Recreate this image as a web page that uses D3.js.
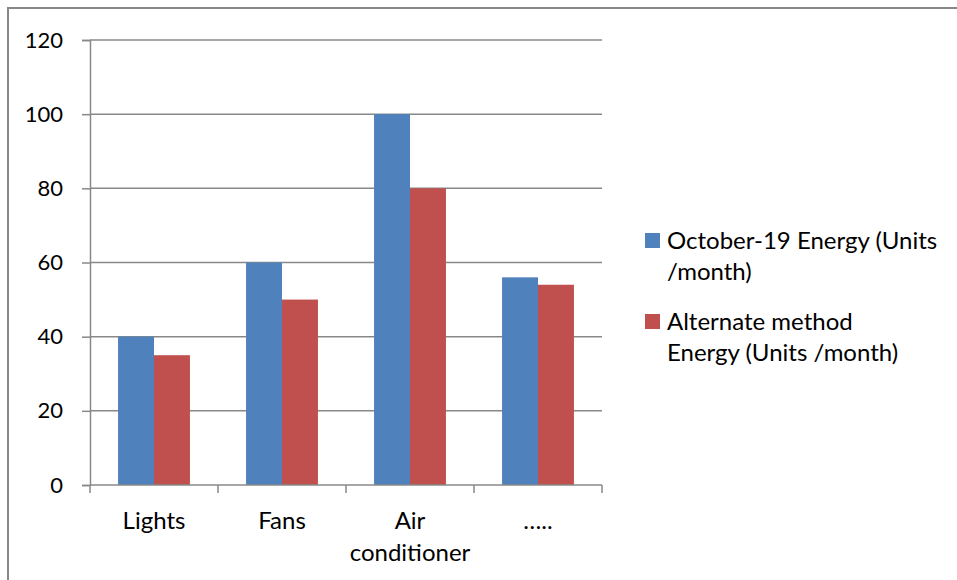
<!DOCTYPE html>
<html>
<head>
<meta charset="utf-8">
<script src="https://cdn.jsdelivr.net/npm/d3@7"></script>
<style>
  body { margin: 0; background: #fff; }
  text { font-family: Lato, "Open Sans", sans-serif; fill: #000; }
</style>
</head>
<body>
<div id="chart"></div>
<script>
const categories = [["Lights"], ["Fans"], ["Air", "conditioner"], ["….."]];
const seriesNames = [["October-19 Energy (Units", "/month)"], ["Alternate method", "Energy (Units /month)"]];
const october = [40, 60, 100, 56];
const alternate = [35, 50, 80, 54];
const yTicks = [0, 20, 40, 60, 80, 100, 120];
const colors = ["#4f81bd", "#c0504d"];

const width = 957, height = 580;
const fontSize = "24px";
const svg = d3.select("#chart").append("svg")
  .attr("width", width)
  .attr("height", height);

// outer frame
svg.append("rect")
  .attr("x", 8).attr("y", 8)
  .attr("width", width + 10).attr("height", height + 10)
  .attr("fill", "none")
  .attr("stroke", "#888")
  .attr("stroke-width", 2);

const plot = { left: 90, right: 602, top: 40, bottom: 485 };

const x = d3.scaleBand()
  .domain(d3.range(categories.length))
  .range([plot.left, plot.right]);
const xInner = d3.scaleBand()
  .domain([0, 1])
  .range([0, x.bandwidth()])
  .paddingOuter(0.78);
const y = d3.scaleLinear()
  .domain([0, 120])
  .range([plot.bottom, plot.top]);

// gridlines
svg.append("g")
  .selectAll("line")
  .data(yTicks.slice(1))
  .enter()
  .append("line")
  .attr("x1", plot.left).attr("x2", plot.right)
  .attr("y1", d => y(d)).attr("y2", d => y(d))
  .attr("stroke", "#888")
  .attr("stroke-width", 1.5);

// bars
const data = [october, alternate];
const groups = svg.append("g")
  .selectAll("g")
  .data(categories.map((c, i) => i))
  .enter()
  .append("g")
  .attr("transform", i => `translate(${x(i)},0)`);
groups.selectAll("rect")
  .data(i => data.map((s, k) => ({ k: k, v: s[i] })))
  .enter()
  .append("rect")
  .attr("x", d => xInner(d.k))
  .attr("width", xInner.bandwidth())
  .attr("y", d => y(d.v))
  .attr("height", d => y(0) - y(d.v))
  .attr("fill", d => colors[d.k]);

// y axis
const yAxis = svg.append("g")
  .attr("transform", `translate(${plot.left},0)`)
  .call(d3.axisLeft(y).tickValues(yTicks).tickSize(8).tickPadding(19));
yAxis.select(".domain").attr("stroke", "#888").attr("stroke-width", 1.5);
yAxis.selectAll(".tick line").attr("stroke", "#888").attr("stroke-width", 1.5);
yAxis.selectAll(".tick text").style("font-size", "22px").style("font-family", "Lato, sans-serif");

// x axis
const xEdges = d3.range(categories.length + 1).map(i => plot.left + i * x.step());
svg.append("line")
  .attr("x1", plot.left).attr("x2", plot.right)
  .attr("y1", plot.bottom).attr("y2", plot.bottom)
  .attr("stroke", "#888").attr("stroke-width", 1.5);
svg.append("g")
  .selectAll("line")
  .data(xEdges)
  .enter()
  .append("line")
  .attr("x1", d => d).attr("x2", d => d)
  .attr("y1", plot.bottom).attr("y2", plot.bottom + 8)
  .attr("stroke", "#888").attr("stroke-width", 1.5);

const xLabels = svg.append("g")
  .selectAll("text")
  .data(categories)
  .enter()
  .append("text")
  .attr("x", (d, i) => x(i) + x.bandwidth() / 2)
  .attr("y", 529)
  .attr("text-anchor", "middle")
  .style("font-size", fontSize);
xLabels.selectAll("tspan")
  .data(d => d)
  .enter()
  .append("tspan")
  .attr("x", function() { return this.parentNode.getAttribute("x"); })
  .attr("dy", (d, i) => i === 0 ? 0 : 32)
  .text(d => d);

// legend
const legendY = [233, 314];
const legend = svg.append("g")
  .selectAll("g")
  .data(seriesNames)
  .enter()
  .append("g")
  .attr("transform", (d, i) => `translate(645,${legendY[i]})`);
legend.append("rect")
  .attr("x", 0).attr("y", 0)
  .attr("width", 15).attr("height", 15)
  .attr("fill", (d, i) => colors[i]);
legend.append("text")
  .attr("x", 22).attr("y", 16)
  .style("font-size", fontSize)
  .selectAll("tspan")
  .data(d => d)
  .enter()
  .append("tspan")
  .attr("x", 22)
  .attr("dy", (d, i) => i === 0 ? 0 : 31)
  .text(d => d);
</script>
</body>
</html>
